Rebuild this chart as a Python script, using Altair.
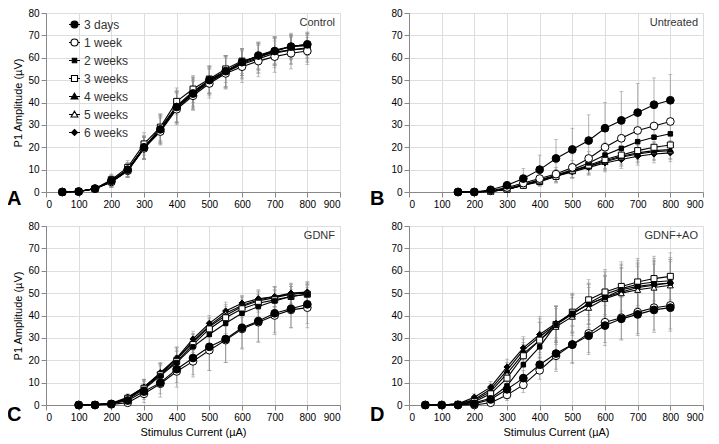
import altair as alt
import pandas as pd

series = ["3 days", "1 week", "2 weeks", "3 weeks", "4 weeks", "5 weeks", "6 weeks"]
shapes = ["circle", "circle", "square", "square", "triangle-up", "triangle-up", "diamond"]
fills = ["black", "white", "black", "white", "black", "white", "black"]
sizes = [60, 60, 20, 36, 36, 36, 38]
legend_paths = [
    "M-1,0H-0.64M0.64,0H1M-0.64,0A0.64,0.64 0 1,0 0.64,0A0.64,0.64 0 1,0 -0.64,0Z",
    "M-1,0H-0.64M0.64,0H1M-0.64,0A0.64,0.64 0 1,0 0.64,0A0.64,0.64 0 1,0 -0.64,0Z",
    "M-1,0H-0.4M0.4,0H1M-0.4,-0.4H0.4V0.4H-0.4Z",
    "M-1,0H-0.55M0.55,0H1M-0.55,-0.55H0.55V0.55H-0.55Z",
    "M-1,0H-0.34M0.34,0H1M0,-0.6L0.62,0.45H-0.62Z",
    "M-1,0H-0.34M0.34,0H1M0,-0.6L0.62,0.45H-0.62Z",
    "M-1,0H-0.55M0.55,0H1M0,-0.55L0.55,0L0,0.55L-0.55,0Z",
]

panel_names = ["Control", "Untreated", "GDNF", "GDNF+AO"]
panel_letters = ["A", "B", "C", "D"]

# ---- Panel A: Control ----
x_A = [50, 100, 150, 200, 250, 300, 350, 400, 450, 500, 550, 600, 650, 700, 750, 800]
A_3d = [0, 0.2, 1.5, 5, 10, 20, 28, 38, 44, 50, 54, 58, 61, 63, 65, 66]
A_1w = [0, 0.2, 1.5, 4.5, 9.5, 19.5, 27, 37, 43, 48.5, 53, 56, 58.5, 60.5, 62, 63]
A_2w = [0, 0.2, 1.5, 5, 10, 20, 28, 38, 44.5, 50, 54, 58, 60.5, 63, 65, 66]
A_3w = [0, 0.2, 1.5, 5.5, 11, 21.5, 29, 40.5, 46, 50.5, 55, 58.5, 60.5, 62.5, 63.5, 64.5]
A_4w = [0, 0.2, 1.5, 5, 10, 20, 28.5, 38.5, 45, 50, 54, 58, 61, 63.5, 65, 65.5]
A_5w = [0, 0.2, 1.5, 4.5, 9.5, 19.5, 27.5, 37.5, 44, 49, 53.5, 57, 59.5, 62, 63.5, 64]
A_6w = [0, 0.2, 1.5, 4.5, 9.5, 19.5, 28, 38, 43.5, 49.5, 53.5, 57.5, 60, 63, 65, 65.5]
A_sd_3d = [0, 0.2, 0.5, 2.5, 3, 5, 6, 7, 7, 6, 7, 6, 6, 6, 5, 5]
A_sd_1w = [0, 0.2, 0.5, 2.5, 3, 5, 6, 7, 6.5, 6.5, 7, 7, 7, 7, 7, 6]
A_sd_2w = [0, 0.2, 0.5, 2.5, 3, 5, 6.5, 7, 6.5, 6, 7, 6, 6, 6, 5.5, 5]
A_sd_3w = [0, 0.2, 0.5, 2.5, 3, 5, 6, 6, 6, 6, 6, 5.5, 6, 6, 6, 6]
A_sd_4w = [0, 0.2, 0.5, 2.5, 3, 5, 6, 7, 6.5, 6, 7, 6, 6, 6, 5.5, 5.5]
A_sd_5w = [0, 0.2, 0.5, 2.5, 3, 5, 6, 7, 6.5, 6, 7, 6.5, 6.5, 6.5, 6.5, 6]
A_sd_6w = [0, 0.2, 0.5, 2.5, 3, 5, 6, 7, 6.5, 6, 7, 6.5, 6.5, 6.5, 6, 6]

# ---- Panel B: Untreated ----
x_B = [150, 200, 250, 300, 350, 400, 450, 500, 550, 600, 650, 700, 750, 800]
B_3d = [0, 0, 1, 3, 6, 10, 15, 19, 23, 28.5, 32, 35.5, 39, 41]
B_1w = [0, 0, 0.5, 2, 4, 6, 8, 11, 15, 20, 24, 27.5, 29.5, 31.5]
B_2w = [0, 0, 0.3, 1.5, 3.5, 5.5, 7.5, 10, 13, 16.5, 19.5, 22.5, 24.5, 26]
B_3w = [0, 0, 0.3, 1.2, 3, 5, 7, 9.5, 12, 14.5, 16.5, 18.5, 20, 21]
B_4w = [0, 0, 0.3, 1.2, 3, 5, 7, 9.5, 11.5, 14, 16, 17.5, 18.5, 19]
B_5w = [0, 0, 0.3, 1.2, 3, 4.5, 7, 9.5, 11.5, 13.5, 15.5, 17, 18, 18.5]
B_6w = [0, 0, 0.3, 1.2, 3, 5, 7, 9, 11, 13, 14.5, 16, 17, 17.5]
B_sd_3d = [0, 0, 0.5, 1.5, 4.5, 6.5, 8.5, 9.5, 11.5, 11.5, 13, 13, 12, 11.5]
B_sd_1w = [0, 0, 0.5, 1.5, 3, 4, 5, 6, 7, 8, 9, 9, 9, 9]
B_sd_2w = [0, 0, 0.3, 1, 2, 3, 3.5, 4, 5, 5.5, 6, 6, 6, 6]
B_sd_3w = [0, 0, 0.3, 1, 1.5, 2, 3, 3, 3.5, 4, 4, 4, 4, 4]
B_sd_4w = [0, 0, 0.3, 1, 1.5, 2, 2.5, 3, 3.5, 4, 4, 4, 4, 4]
B_sd_5w = [0, 0, 0.3, 1, 1.5, 2, 2.5, 3, 3.5, 4, 4, 4, 4, 4]
B_sd_6w = [0, 0, 0.3, 1, 1.5, 2, 2.5, 3, 3.5, 4, 4, 4, 4, 4]
B_up_only = ["3 days", "1 week", "2 weeks"]

# ---- Panel C: GDNF ----
x_C = [100, 150, 200, 250, 300, 350, 400, 450, 500, 550, 600, 650, 700, 750, 800]
C_3d = [0, 0, 0.5, 2, 6, 10, 16, 21, 26, 29.5, 34.5, 37.5, 41, 43, 45]
C_1w = [0, 0, 0.3, 1, 5, 9.5, 15, 19.5, 24.5, 29, 34, 37, 40, 42.5, 43.5]
C_2w = [0, 0.2, 0.5, 2.5, 7, 13, 19, 26, 31.5, 36.5, 41, 44, 46.5, 48.5, 49.5]
C_3w = [0, 0.2, 0.5, 3, 7.5, 13.5, 19.5, 27, 34, 39, 43, 45.5, 47, 48.5, 49.5]
C_4w = [0, 0.2, 0.6, 3, 8, 14, 20.5, 28, 35, 40, 44, 46.5, 48, 49.5, 50.5]
C_5w = [0, 0.2, 0.6, 3, 8, 14, 20.5, 28.5, 35.5, 41, 44.5, 47, 48.5, 49.5, 50]
C_6w = [0, 0.2, 0.8, 3.5, 8, 14.5, 21, 29.5, 36.5, 42, 45.5, 47.5, 48.5, 50, 50.5]
C_sd_3d = [0, 0, 0.5, 1.5, 3.5, 5, 6, 7.5, 10.5, 10.5, 9, 9, 8.5, 8.5, 8.5]
C_sd_1w = [0, 0, 0.3, 1.5, 4, 6, 7, 7, 9, 10, 9, 9, 8.5, 8, 9]
C_sd_2w = [0, 0, 0.5, 1.5, 3.5, 4.5, 5, 4, 4, 4.5, 4.5, 4.5, 4.5, 4.5, 4.5]
C_sd_3w = [0, 0, 0.5, 1.5, 3.5, 4.5, 5, 3.5, 3.5, 4, 4, 4, 4.5, 4.5, 4.5]
C_sd_4w = [0, 0, 0.5, 1.5, 3.5, 4.5, 5, 3.5, 3.5, 4, 4, 4, 4.5, 4.5, 4.5]
C_sd_5w = [0, 0, 0.5, 1.5, 3.5, 4.5, 5, 3.5, 3.5, 4, 4, 4, 4.5, 4.5, 4.5]
C_sd_6w = [0, 0, 0.5, 1.5, 3.5, 4.5, 5, 3.5, 3.5, 4, 3.5, 4, 4.5, 4.5, 4.5]

# ---- Panel D: GDNF+AO ----
x_D = [50, 100, 150, 200, 250, 300, 350, 400, 450, 500, 550, 600, 650, 700, 750, 800]
D_3d = [0, 0, 0, 0.5, 2.5, 7, 12, 18, 23, 27, 31, 35.5, 38.5, 40.5, 42.5, 43.5]
D_1w = [0, 0, 0, 0, 1, 4.5, 9, 15.5, 22, 27, 32, 37, 39, 41.5, 43.5, 44.5]
D_2w = [0, 0, 0.3, 1, 3, 8.5, 18, 26, 36, 41, 45, 48, 51.5, 53, 54, 54.5]
D_3w = [0, 0, 0.3, 1.5, 5, 12, 22, 29, 36, 41.5, 47, 50.5, 53, 55, 56.5, 57.5]
D_4w = [0, 0, 0.5, 2.5, 7, 15.5, 24.5, 30.5, 36, 40.5, 45.5, 49.5, 52, 54, 55, 55.5]
D_5w = [0, 0, 0.5, 2, 6, 14, 23, 29, 35, 39.5, 43.5, 47.5, 50, 51.5, 52.5, 53.5]
D_6w = [0, 0, 0.5, 3.5, 8, 17, 25.5, 31.5, 36.5, 41, 45, 48, 50.5, 52.5, 53.5, 54.5]
D_sd_3d = [0, 0, 0, 0.5, 1.5, 2.5, 3.5, 3.5, 7, 8, 8.5, 9, 9.5, 9.5, 10, 10.5]
D_sd_1w = [0, 0, 0, 0.3, 1.5, 2.5, 3.5, 4, 7, 8.5, 8.5, 9, 9.5, 9.5, 10, 10.5]
D_sd_2w = [0, 0, 0.3, 1, 2, 3, 4.5, 7, 8, 8.5, 9, 10, 11, 10.5, 10.5, 10.5]
D_sd_3w = [0, 0, 0.3, 1.5, 2.5, 3.5, 5, 8, 8, 8.5, 9, 10, 11, 10.5, 10, 10.5]
D_sd_4w = [0, 0, 0.5, 1.5, 2.5, 3.5, 5, 8, 8, 8.5, 9, 10, 11, 10.5, 10.5, 10.5]
D_sd_5w = [0, 0, 0.5, 1.5, 2.5, 3.5, 5, 8, 8, 8.5, 9, 10, 11, 10.5, 10.5, 10.5]
D_sd_6w = [0, 0, 0.5, 1.5, 2.5, 3.5, 5, 8, 8, 8.5, 9, 10, 11, 10.5, 10.5, 10.5]

panels = [
    (x_A, [A_3d, A_1w, A_2w, A_3w, A_4w, A_5w, A_6w],
     [A_sd_3d, A_sd_1w, A_sd_2w, A_sd_3w, A_sd_4w, A_sd_5w, A_sd_6w], []),
    (x_B, [B_3d, B_1w, B_2w, B_3w, B_4w, B_5w, B_6w],
     [B_sd_3d, B_sd_1w, B_sd_2w, B_sd_3w, B_sd_4w, B_sd_5w, B_sd_6w], B_up_only),
    (x_C, [C_3d, C_1w, C_2w, C_3w, C_4w, C_5w, C_6w],
     [C_sd_3d, C_sd_1w, C_sd_2w, C_sd_3w, C_sd_4w, C_sd_5w, C_sd_6w], []),
    (x_D, [D_3d, D_1w, D_2w, D_3w, D_4w, D_5w, D_6w],
     [D_sd_3d, D_sd_1w, D_sd_2w, D_sd_3w, D_sd_4w, D_sd_5w, D_sd_6w], []),
]

W, H = 294, 179
x_ticks = [0, 100, 200, 300, 400, 500, 600, 700, 800, 900]
y_ticks = [0, 10, 20, 30, 40, 50, 60, 70, 80]
ERR = "#8f8f8f"


def make_panel(i):
    xs, ys, sds, up_only = panels[i]
    rows = []
    for s_idx, s in enumerate(series):
        for xv, yv, sd in zip(xs, ys[s_idx], sds[s_idx]):
            lo = yv if s in up_only else yv - sd
            rows.append({"series": s, "order": s_idx, "x": xv, "y": yv,
                         "shape": shapes[s_idx], "fill": fills[s_idx], "size": sizes[s_idx],
                         "lo": max(lo, 0), "hi": yv + sd, "sd": sd})
    df = pd.DataFrame(rows)
    left = i % 2 == 0
    bottom = i >= 2
    xscale = alt.Scale(domain=[0, 900], nice=False)
    yscale = alt.Scale(domain=[0, 80], nice=False)
    xaxis = alt.Axis(values=x_ticks, labelOverlap=False, titleFontWeight="normal",
                     title="Stimulus Current (\u00b5A)" if bottom else None)
    yaxis = alt.Axis(values=y_ticks, labelOverlap=False, titleFontWeight="normal",
                     title="P1 Amplitude (\u00b5V)" if left else None)
    xenc = alt.X("x:Q", scale=xscale, axis=xaxis)

    def Y(field):
        return alt.Y(field, scale=yscale, axis=yaxis)

    base = alt.Chart(df)
    err = base.transform_filter("datum.sd > 0").mark_rule(color=ERR, strokeWidth=0.7).encode(
        x=xenc, y=Y("lo:Q"), y2="hi:Q")
    cap_hi = base.transform_filter("datum.sd > 0").mark_tick(
        color=ERR, size=4, thickness=0.7, orient="horizontal").encode(x=xenc, y=Y("hi:Q"))
    cap_lo = base.transform_filter("datum.sd > 0 && datum.lo < datum.y").mark_tick(
        color=ERR, size=4, thickness=0.7, orient="horizontal").encode(x=xenc, y=Y("lo:Q"))
    lines = base.mark_line(color="black", strokeWidth=1.1).encode(
        x=xenc, y=Y("y:Q"), detail="series:N", order="x:Q")
    pts = base.mark_point(filled=True, stroke="black", strokeWidth=1, opacity=1).encode(
        x=xenc, y=Y("y:Q"),
        shape=alt.Shape("shape:N", scale=None),
        fill=alt.Fill("fill:N", scale=None),
        size=alt.Size("size:Q", scale=None),
        order=alt.Order("order:Q", sort="descending"),
    )
    lab_df = pd.DataFrame({"name": [panel_names[i]], "letter": [panel_letters[i]]})
    name_txt = alt.Chart(lab_df).mark_text(align="right", baseline="middle", fontSize=11,
                                            color="#333333", font="Liberation Sans").encode(
        x=alt.value(W - 5), y=alt.value(10), text="name:N")
    letter_txt = alt.Chart(lab_df).mark_text(align="left", baseline="alphabetic", fontSize=20,
                                              fontWeight="bold", color="black",
                                              font="Liberation Sans").encode(
        x=alt.value(-39), y=alt.value(H + (16 if bottom else 13)), text="letter:N")
    layers = [err, cap_hi, cap_lo, lines, pts, name_txt, letter_txt]
    if i == 0:
        lg_kwargs = dict(title=None, orient="none", legendX=22, legendY=5,
                         symbolSize=121, symbolOpacity=1, symbolStrokeColor="black",
                         symbolStrokeWidth=1.1, labelFontSize=12, labelColor="#333333",
                         labelFont="Liberation Sans", labelOffset=3, rowPadding=5, padding=0)
        lg = base.mark_point(filled=True, stroke="black", strokeWidth=1).encode(
            x=xenc, y=Y("y:Q"),
            shape=alt.Shape("series:N", scale=alt.Scale(domain=series, range=legend_paths),
                            legend=alt.Legend(**lg_kwargs)),
            fill=alt.Fill("series:N", scale=alt.Scale(domain=series, range=fills),
                          legend=alt.Legend(**lg_kwargs)),
            size=alt.value(0),
        )
        layers.append(lg)
    return alt.layer(*layers).properties(width=W, height=H)


row1 = alt.hconcat(make_panel(0), make_panel(1), spacing=28)
row2 = alt.hconcat(make_panel(2), make_panel(3), spacing=28)
chart = alt.vconcat(row1, row2, spacing=10).resolve_scale(
    shape="independent", fill="independent"
).configure_view(stroke="#444444", strokeWidth=1).configure_axis(
    grid=False, domainColor="black", tickColor="black", tickSize=5,
    labelFont="Liberation Sans", titleFont="Liberation Sans",
    labelFontSize=10, labelColor="#333333", titleFontSize=12, titleColor="#333333",
    titleFontWeight="normal", labelPadding=3,
).configure_axisY(titlePadding=10).configure_axisX(titlePadding=3).configure(
    padding={"top": -1, "left": -2, "right": 0, "bottom": 0}, background="white")

chart.save("out.html", embed_options={"renderer": "svg", "actions": False})
